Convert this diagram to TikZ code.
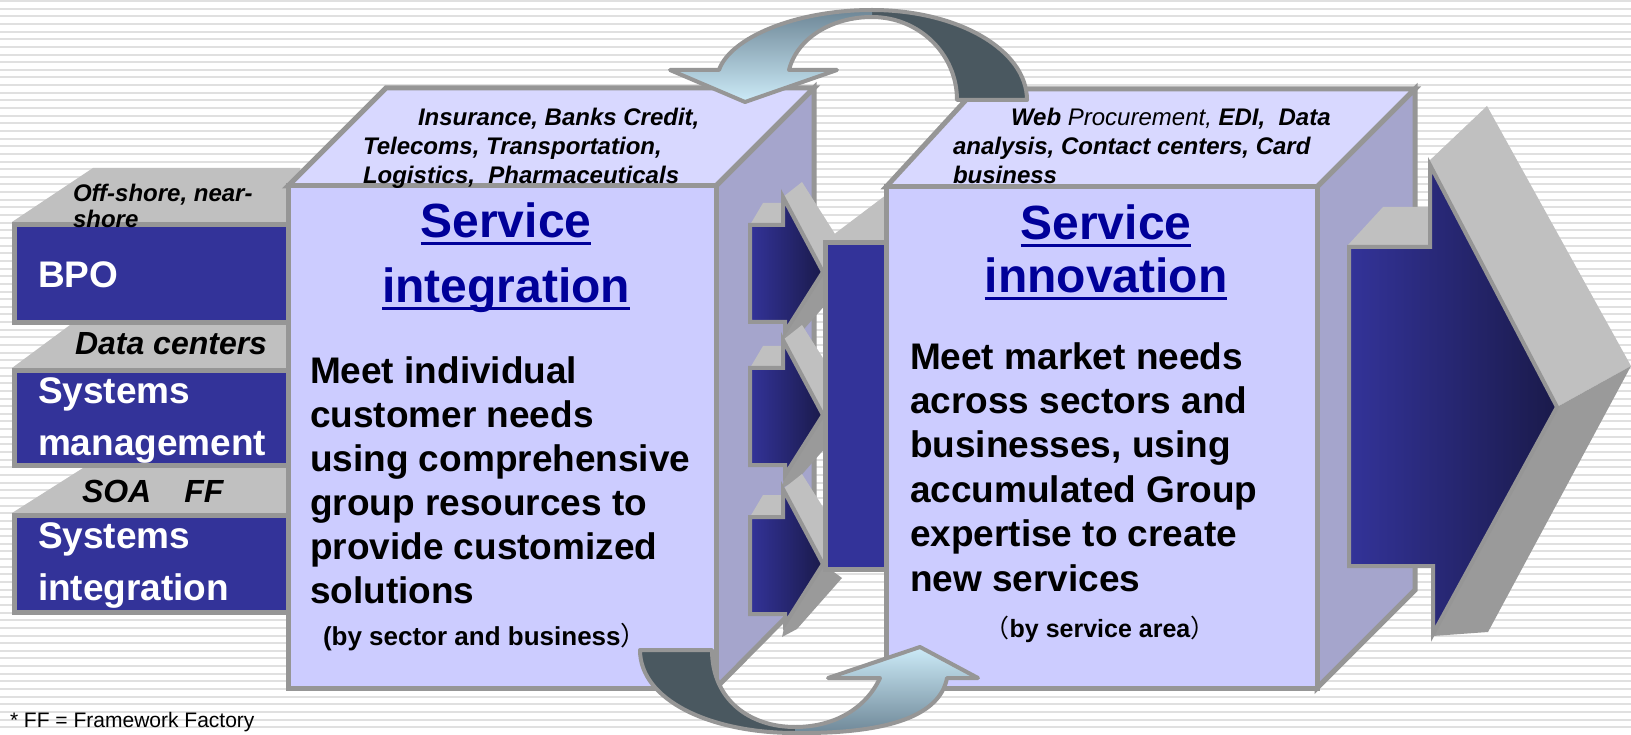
\documentclass[tikz,border=0pt]{standalone}
\usepackage{fontspec}
\setmainfont{Liberation Sans}
\newfontfamily\cjk{Noto Sans CJK JP}

\definecolor{bordergrey}{HTML}{969696}
\definecolor{bevel}{HTML}{C0C0C0}
\definecolor{bevelshade}{HTML}{9A9A9A}
\definecolor{navy}{HTML}{333399}
\definecolor{navydark}{HTML}{1A1A4A}
\definecolor{frontface}{HTML}{CCCCFF}
\definecolor{topface}{HTML}{D8D8FF}
\definecolor{sideface}{HTML}{A5A5CC}
\definecolor{titleblue}{HTML}{000099}
\definecolor{slate}{HTML}{4A5860}
\definecolor{skylight}{HTML}{CCEBF8}
\definecolor{skydark}{HTML}{6E8797}
\definecolor{stripe}{HTML}{E0E0E0}

% font size in px-sized points, with line spacing
\newcommand\fsz[2]{\fontsize{#1}{#2}\selectfont}
% invisible strut that fixes the first baseline one em below the node top
\newcommand\lead{\rule{0pt}{1em}}
% underline placed just below the baseline
\newcommand\ulbar[1]{\setbox0=\hbox{#1}\rlap{\rule[-7pt]{\wd0}{3pt}}\box0}

\tikzset{
  face/.style={draw=bordergrey, line width=5pt, line join=miter},
  outline/.style={draw=bordergrey, line width=4pt, line join=miter},
  txt/.style={inner sep=0pt, outer sep=0pt},
  block/.style={txt, anchor=north west, align=left},
  barlabel/.style={block, text=white, font=\bfseries\fsz{37}{52}},
  barnote/.style={block, font=\bfseries\itshape\fsz{32}{36}},
  facenote/.style={block, font=\bfseries\itshape\fsz{24}{29}},
  title/.style={txt, anchor=base, text=titleblue, font=\bfseries\fsz{48}{58}},
  body/.style={block, font=\bfseries\fsz{37}{44}},
  aside/.style={txt, font=\bfseries\fsz{26}{30}},
}

% a small extruded block arrow linking the two cubes
\newcommand\linkarrow[1]{%
  \begin{scope}[shift={(0,#1)}]
    \fill[bevel] (783,197) -- (802,182) -- (842,245) -- (823,272) -- cycle;
    \fill[bevelshade] (823,272) -- (842,286) -- (797,337) -- (782,345) -- (785,332) -- cycle;
    \fill[bevel] (750,225) -- (763,203) -- (783,203) -- (783,225) -- cycle;
    \shadedraw[left color=navy, right color=navydark, outline]
      (750,225) -- (783,225) -- (783,197) -- (823,272) -- (785,332)
      -- (785,322) -- (750,322) -- cycle;
  \end{scope}}

\begin{document}
\begin{tikzpicture}[x=1pt,y=-1pt]
\useasboundingbox (0,0) rectangle (1631,735);

% striped background
\fill[white] (0,0) rectangle (1631,735);
\foreach \k in {0,...,95}
  \draw[stripe, line width=2pt] (0,{1+\k*7.645}) -- (1631,{1+\k*7.645});

% capability bars on the left
\fill[bevel] (12,222) -- (93,168) -- (300,168) -- (300,222) -- cycle;
\fill[bevel] (12,368) -- (70,325) -- (300,325) -- (300,368) -- cycle;
\fill[bevel] (12,513) -- (83,468) -- (300,468) -- (300,513) -- cycle;
\draw[face, fill=navy] (14.5,224.5) rectangle (300,322.5);
\draw[face, fill=navy] (14.5,370.5) rectangle (300,465.5);
\draw[face, fill=navy] (14.5,515.5) rectangle (300,612.5);

% left cube: service integration
\draw[face, fill=topface]  (288,186) -- (386,88) -- (814,88) -- (716,186) -- cycle;
\draw[face, fill=sideface] (716,186) -- (814,88) -- (814,589) -- (716,688) -- cycle;
\draw[face, fill=frontface] (288,186) rectangle (716,688);

% three link arrows and the collecting bar
\linkarrow{0}
\linkarrow{143}
\linkarrow{292}
\fill[bevel] (825,242) -- (837,232) -- (886,195) -- (886,242) -- cycle;
\draw[face, fill=navy] (825.5,242.5) rectangle (888,569.5);

% right cube: service innovation
\draw[face, fill=topface]  (886,187) -- (976,89) -- (1415,89) -- (1317,187) -- cycle;
\draw[face, fill=sideface] (1317,187) -- (1415,89) -- (1415,590) -- (1317,688) -- cycle;
\draw[face, fill=frontface] (886,187) rectangle (1317,688);

% large outgoing arrow
\fill[bevel] (1428,162) -- (1487,106) -- (1631,366) -- (1557,407) -- cycle;
\fill[bevelshade] (1557,407) -- (1631,366) -- (1488,632) -- (1433,636) -- cycle;
\fill[bevel] (1348,245) -- (1383,207) -- (1431,207) -- (1431,245) -- cycle;
\shadedraw[left color=navy, right color=navydark, outline]
  (1349,247) -- (1430,247) -- (1430,165) -- (1557,407) -- (1433,634)
  -- (1433,566) -- (1349,566) -- cycle;

% upper curved arrow (innovation back to integration)
\fill[slate] (1027,100) .. controls (1027,50) and (958,10) .. (872,10)
  -- (872,17) .. controls (919,17) and (957,54) .. (957,100) -- cycle;
\shade[top color=skydark, bottom color=skylight]
  (872,10) .. controls (795,10) and (730,38) .. (719,70) -- (670,70)
  -- (745,102) -- (837,70) -- (789,70) .. controls (797,38) and (832,17) .. (872,17) -- cycle;
\draw[outline, line join=round]
  (1027,100) .. controls (1027,50) and (958,10) .. (872,10)
  .. controls (795,10) and (730,38) .. (719,70) -- (670,70) -- (745,102)
  -- (837,70) -- (789,70) .. controls (797,38) and (832,17) .. (872,17)
  .. controls (919,17) and (957,54) .. (957,100) -- cycle;

% lower curved arrow (integration on to innovation)
\fill[slate] (640,650) .. controls (640,700) and (710,733) .. (795,733)
  -- (795,727) .. controls (750,727) and (712,700) .. (712,650) -- cycle;
\shade[top color=skylight, bottom color=skydark]
  (795,733) .. controls (890,734) and (940,715) .. (947,678) -- (978,678)
  -- (920,647) -- (828,678) -- (880,678) .. controls (866,708) and (835,727) .. (795,727) -- cycle;
\draw[outline, line join=round]
  (640,650) .. controls (640,700) and (710,733) .. (795,733)
  .. controls (890,734) and (940,715) .. (947,678) -- (978,678) -- (920,647)
  -- (828,678) -- (880,678) .. controls (866,708) and (835,727) .. (795,727)
  .. controls (750,727) and (712,700) .. (712,650) -- cycle;

% labels on the bars
\node[block, font=\bfseries\itshape\fsz{24}{26}] (offshore) at (73,178) {\lead Off-shore, near-\\shore};
\node[barlabel] (bpo) at (38,251) {\lead BPO};
\node[barnote] (datacenters) at (75,323) {\lead Data centers};
\node[barlabel] (sysmgmt) at (38,366) {\lead Systems\\management};
\node[barnote] (soaff) at (82,470) {\lead SOA\hspace{33pt}FF};
\node[barlabel] (sysint) at (38,511) {\lead Systems\\integration};

% left cube texts
\node[facenote] (sectors) at (363,102)
  {\lead\hspace*{55pt}Insurance, Banks Credit,\\Telecoms, Transportation,\\Logistics,\ \ Pharmaceuticals};
\node[title] (integA) at (506,238) {\ulbar{Service}};
\node[title] (integB) at (506,303) {\ulbar{integration}};
\node[body] (integbody) at (310,346)
  {\lead Meet individual\\customer needs\\using comprehensive\\group resources to\\provide customized\\solutions};
\node[aside, anchor=base west] (bysector) at (323,645) {(by sector and business{\cjk\mdseries ）}};

% right cube texts
\node[facenote] (services) at (953,102)
  {\lead\hspace*{58pt}Web {\mdseries Procurement,} EDI,\ \ Data\\analysis, Contact centers, Card\\business};
\node[title] (innovA) at (1106,240) {\ulbar{Service}};
\node[title] (innovB) at (1106,293) {\ulbar{innovation}};
\node[body, font=\bfseries\fsz{37}{44.4}] (innovbody) at (910,332)
  {\lead Meet market needs\\across sectors and\\businesses, using\\accumulated Group\\expertise to create\\new services};
\node[aside, anchor=base, font=\bfseries\fsz{25}{30}] (byarea) at (1100,637) {{\cjk\mdseries （}by service area{\cjk\mdseries ）}};

% footnote
\node[txt, anchor=base west, font=\fsz{21}{25}] (footnote) at (10,727) {* FF = Framework Factory};
\end{tikzpicture}
\end{document}
